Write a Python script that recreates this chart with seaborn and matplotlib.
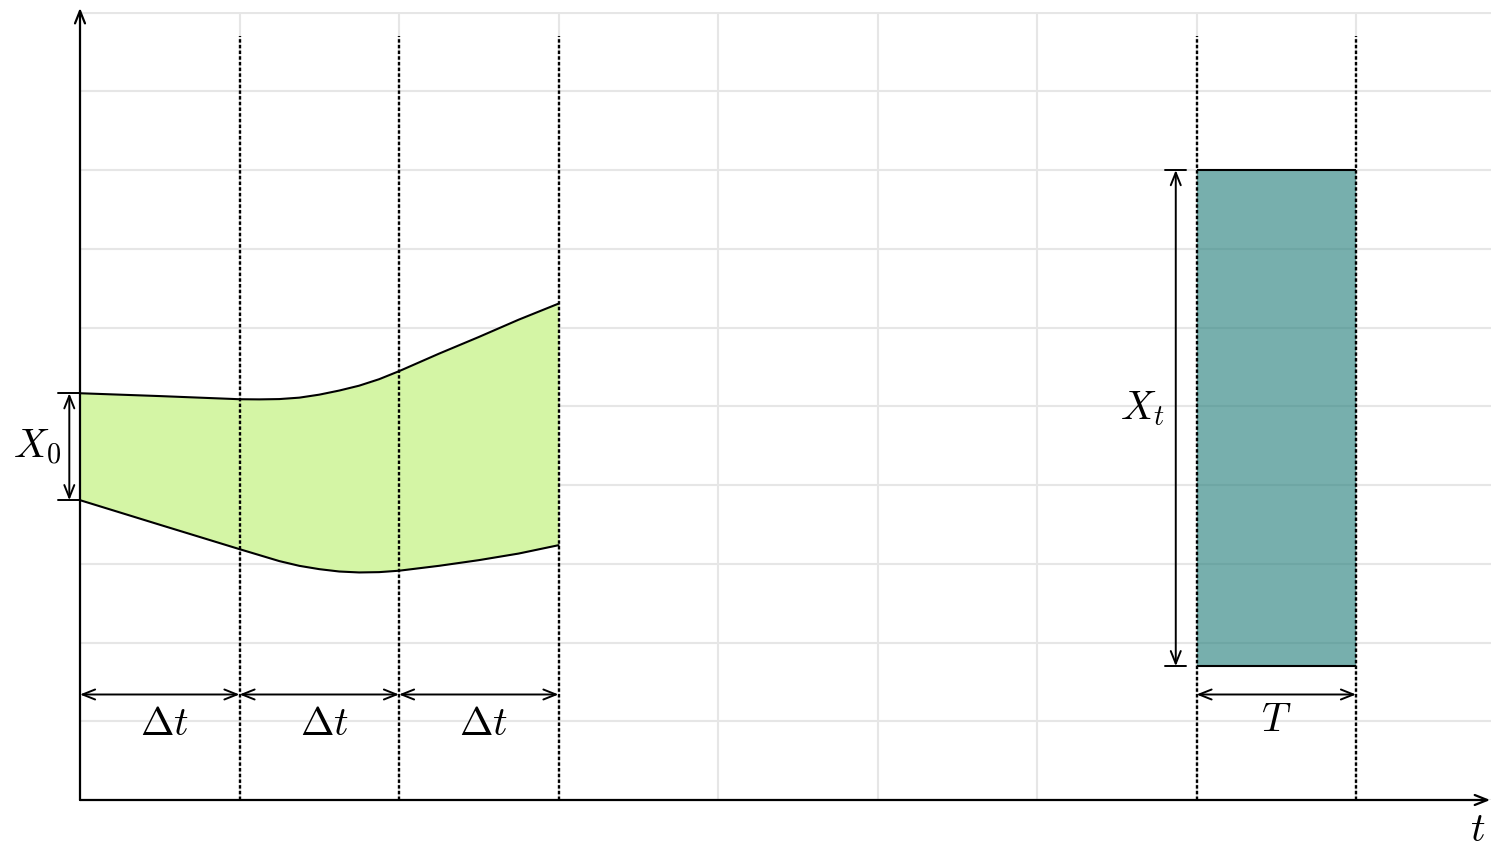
import numpy as np
import matplotlib
matplotlib.use("Agg")
import matplotlib.pyplot as plt
import seaborn as sns

# Time nodes along the band and its upper / lower boundary
t_nodes = [0.0, 0.5, 1.0, 1.125, 1.25, 1.375, 1.5, 1.625, 1.75, 1.875, 2.0, 2.25, 2.5, 2.75, 3.0]
band_upper = [2.583, 2.565, 2.545, 2.544, 2.546, 2.555, 2.574, 2.600, 2.631, 2.672, 2.723,
              2.834, 2.940, 3.050, 3.152]
band_lower = [1.904, 1.748, 1.593, 1.555, 1.517, 1.487, 1.466, 1.451, 1.445, 1.447, 1.456,
              1.487, 1.523, 1.565, 1.618]

# Step boundaries (Δt) and the final window [T0, T1]
step_marks = [0.0, 1.0, 2.0, 3.0]
window = [7.0, 8.0]
window_lo, window_hi = 0.85, 4.0

# Heights of the guide lines, dimension arrows and labels
guide_top = 4.85
dim_level = 0.67
step_labels = [r"$\Delta t$", r"$\Delta t$", r"$\Delta t$"]

green = "#d4f5a5"
teal = "#2b827f"

sns.set_theme(style="white")
plt.rcParams["mathtext.fontset"] = "cm"
plt.rcParams["lines.scale_dashes"] = False
plt.rcParams["font.family"] = ["DejaVu Sans"]
plt.rcParams["text.color"] = "black"

W, H, DPI = 1491, 848, 100
fig = plt.figure(figsize=(W / DPI, H / DPI), dpi=DPI)
x0_px, y0_px, ytop_px = 80, 800, 12
ax = fig.add_axes([x0_px / W, (H - y0_px) / H, (W - x0_px) / W, (y0_px - ytop_px) / H])
x_unit = 159.5
ax.set_xlim(0, (W - x0_px) / x_unit)
ax.set_ylim(0, 5.004)

# Background grid
ax.set_xticks(np.arange(0, 9, 1))
ax.set_yticks(np.arange(0, 5.01, 0.5))
ax.grid(True, color="#e6e6e6", lw=1.5)
ax.set_axisbelow(True)
ax.tick_params(length=0, labelleft=False, labelbottom=False)
for s in ax.spines.values():
    s.set_visible(False)

t = np.array(t_nodes)
up = np.array(band_upper)
lo = np.array(band_lower)

# Spreading band
ax.fill_between(t, lo, up, color=green, lw=0, zorder=1)
sns.lineplot(x=t, y=up, color="black", lw=1.5, ax=ax, zorder=3)
sns.lineplot(x=t, y=lo, color="black", lw=1.5, ax=ax, zorder=3)

# Final window block
ax.bar(window[0], window_hi - window_lo, bottom=window_lo, width=window[1] - window[0],
       align="edge", color=teal, alpha=0.64, lw=0, zorder=1)
ax.hlines([window_lo, window_hi], window[0], window[1], color="black", lw=1.5, zorder=3)

# Dotted guides
ax.vlines(step_marks[1:] + window, 0, guide_top, colors="black", lw=1.7,
          linestyles=[(0, (2.5, 1.6))], zorder=4)

head = "head_length=0.75,head_width=0.3"


def dim_arrow(p, q):
    ax.annotate("", xy=q, xytext=p,
                arrowprops=dict(arrowstyle="<->," + head, lw=1.4, color="black",
                                shrinkA=0, shrinkB=0),
                annotation_clip=False, zorder=5)


# Axes with arrow heads
for end in [(0, 5.03), ((W - x0_px) / x_unit - 0.005, 0)]:
    ax.annotate("", xy=end, xytext=(0, 0),
                arrowprops=dict(arrowstyle="->," + head, lw=1.6, color="black",
                                shrinkA=0, shrinkB=0),
                annotation_clip=False, zorder=6)

# Δt dimensions
for a, b, lab in zip(step_marks[:-1], step_marks[1:], step_labels):
    dim_arrow((a, dim_level), (b, dim_level))
    ax.text((a + b) / 2 + 0.03, dim_level - 0.19, lab, fontsize=29, ha="center", va="center",
            color="black")

# T dimension
dim_arrow((window[0], dim_level), (window[1], dim_level))
ax.text(sum(window) / 2, dim_level - 0.16, r"$T$", fontsize=29, ha="center", va="center",
        color="black")

# X_0 dimension
x0_arrow = -0.067
dim_arrow((x0_arrow, band_upper[0]), (x0_arrow, band_lower[0]))
ax.plot([-0.135, 0], [band_upper[0]] * 2, color="black", lw=1.4, clip_on=False)
ax.plot([-0.135, 0], [band_lower[0]] * 2, color="black", lw=1.4, clip_on=False)
ax.text(-0.27, (band_upper[0] + band_lower[0]) / 2, r"$X_0$", fontsize=29,
        ha="center", va="center", color="black")

# X_t dimension
xt_arrow = 6.87
dim_arrow((xt_arrow, window_hi), (xt_arrow, window_lo))
ax.plot([6.805, 6.935], [window_hi] * 2, color="black", lw=1.4)
ax.plot([6.805, 6.935], [window_lo] * 2, color="black", lw=1.4)
ax.text(6.66, 2.49, r"$X_t$", fontsize=29, ha="center", va="center", color="black")

# Time axis label
ax.text(8.76, -0.19, r"$t$", fontsize=29, ha="center", va="center", color="black")

fig.savefig("out.png", dpi=DPI)
